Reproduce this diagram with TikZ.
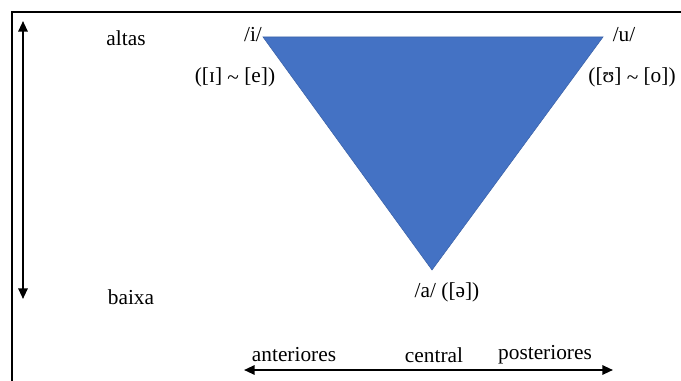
\documentclass[tikz,border=0pt]{standalone}
\usepackage{fontspec}
\setmainfont{Liberation Serif}
\usetikzlibrary{arrows.meta}
\definecolor{vowelblue}{HTML}{4472C4}
\tikzset{
  % text labels
  lbl/.style={font=\fontsize{16}{19}\selectfont, inner sep=0pt},
  % double-headed axes
  axis/.style={{Stealth[length=8pt,width=7pt,inset=0pt]}-{Stealth[length=8pt,width=7pt,inset=0pt]},
               line width=1.5pt},
  % outer frame
  frame/.style={line width=2.2pt},
  % vowel triangle
  vowel/.style={fill=vowelblue, draw=vowelblue!85!black, line width=0.4pt},
}

\begin{document}
\begin{tikzpicture}[x=0.75pt, y=-0.75pt]
\useasboundingbox (0,0) rectangle (681,381);

% ── Frame ────────────────────────────────────────────────────────────────────
\draw[frame] (12,381) -- (12,12) -- (681,12);

% ── Triangle ─────────────────────────────────────────────────────────────────
\coordinate (vi) at (263,37);
\coordinate (vu) at (603,37);
\coordinate (va) at (432,270);
\filldraw[vowel] (vi) -- (vu) -- (va) -- cycle;

% ── Vowel labels ─────────────────────────────────────────────────────────────
\node[lbl] (li)  at (253,35)  {/i/};
\node[lbl] (lie) at (235,77)  {([ɪ] \raisebox{-0.2ex}{\textasciitilde} [e])};
\node[lbl] (lu)  at (624,35)  {/u/};
\node[lbl] (luo) at (632,77)  {([ʊ] \raisebox{-0.2ex}{\textasciitilde} [o])};
\node[lbl] (la)  at (447,292) {/a/ ([ə])};

% ── Height axis ──────────────────────────────────────────────────────────────
\coordinate (htop) at (23,21);
\coordinate (hbot) at (23,299);
\draw[axis] (htop) -- (hbot);
\node[lbl] (altas) at (126,38)  {altas};
\node[lbl] (baixa) at (131,297) {baixa};

% ── Backness axis ────────────────────────────────────────────────────────────
\coordinate (bfront) at (244,370);
\coordinate (bback)  at (613,370);
\draw[axis] (bfront) -- (bback);
\node[lbl] (ant) at (294,355) {anteriores};
\node[lbl] (cen) at (434,355) {central};
\node[lbl] (pos) at (545,355) {posteriores};

\end{tikzpicture}
\end{document}
